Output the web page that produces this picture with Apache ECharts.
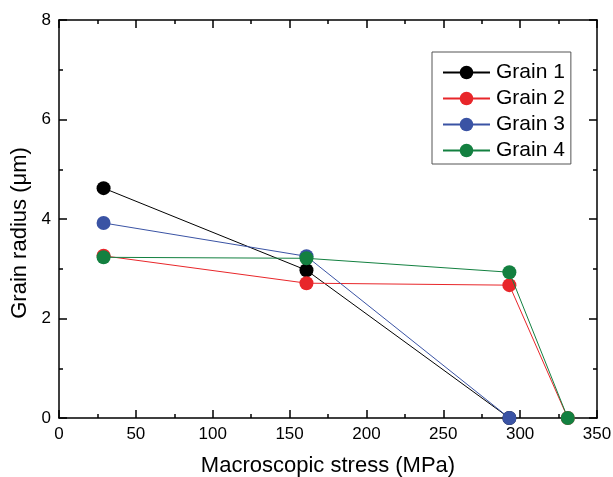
<!DOCTYPE html>
<html>
<head>
<meta charset="utf-8">
<script src="https://cdn.jsdelivr.net/npm/echarts@6/dist/echarts.min.js"></script>
<style>
  html, body { margin: 0; padding: 0; background: #fff; }
  #chart { width: 613px; height: 477px; }
</style>
</head>
<body>
<div id="chart"></div>
<script>
'use strict';

/* ── Data ── */
const seriesNames = ['Grain 1', 'Grain 2', 'Grain 3', 'Grain 4'];
const grain1 = [[29, 4.62], [161, 2.97], [293, 0]];
const grain2 = [[29, 3.26], [161, 2.71], [293, 2.67], [331, 0]];
const grain3 = [[29, 3.92], [161, 3.25], [293, 0]];
const grain4 = [[29, 3.23], [161, 3.21], [293, 2.93], [331, 0]];
const colors = ['#000000', '#e8262a', '#3a53a4', '#138040'];

const FONT = "'Liberation Sans', Arial, sans-serif";

function axisBase(showLabel) {
  return {
    axisLine: { show: true, onZero: false, lineStyle: { color: '#000', width: 1.5 } },
    axisTick: { show: true, inside: true, length: 8, lineStyle: { color: '#000', width: 1.5 } },
    minorTick: { show: true, splitNumber: 2, length: 4, lineStyle: { color: '#000', width: 1.5 } },
    splitLine: { show: false },
    axisLabel: { show: showLabel, color: '#000', fontSize: 17, fontFamily: FONT, margin: 8 }
  };
}

const chart = echarts.init(document.getElementById('chart'), null, { renderer: 'canvas' });

const data = [grain1, grain2, grain3, grain4];

chart.setOption({
  backgroundColor: '#fff',
  animation: false,
  textStyle: { fontFamily: FONT },
  grid: { left: 59, right: 16, top: 20, bottom: 59, outerBoundsMode: 'none', containLabel: false },
  legend: {
    orient: 'vertical',
    left: 432,
    top: 52,
    padding: [10, 6, 3, 10],
    itemGap: 5,
    itemWidth: 47,
    itemHeight: 17,
    borderColor: '#555',
    borderWidth: 1,
    textStyle: { color: '#000', fontSize: 21, fontFamily: FONT, padding: [0, 0, 0, 1] },
    data: seriesNames
  },
  xAxis: [
    Object.assign(axisBase(true), {
      type: 'value', min: 0, max: 350, interval: 50, position: 'bottom',
      name: 'Macroscopic stress (MPa)', nameLocation: 'middle', nameGap: 37,
      nameTextStyle: { color: '#000', fontSize: 22, fontFamily: FONT }
    }),
    Object.assign(axisBase(false), {
      type: 'value', min: 0, max: 350, interval: 50, position: 'top'
    })
  ],
  yAxis: [
    Object.assign(axisBase(true), {
      type: 'value', min: 0, max: 8, interval: 2, position: 'left',
      name: 'Grain radius (\u03bcm)', nameLocation: 'middle', nameGap: 28,
      nameTextStyle: { color: '#000', fontSize: 22, fontFamily: FONT, padding: [0, 28, 0, 0] }
    }),
    Object.assign(axisBase(false), {
      type: 'value', min: 0, max: 8, interval: 2, position: 'right'
    })
  ],
  series: seriesNames.map((name, i) => ({
    name: name,
    type: 'line',
    data: data[i],
    symbol: 'circle',
    symbolSize: 14,
    z: 2 + i,
    lineStyle: { color: colors[i], width: 1 },
    itemStyle: { color: colors[i] }
  }))
});
</script>
</body>
</html>
